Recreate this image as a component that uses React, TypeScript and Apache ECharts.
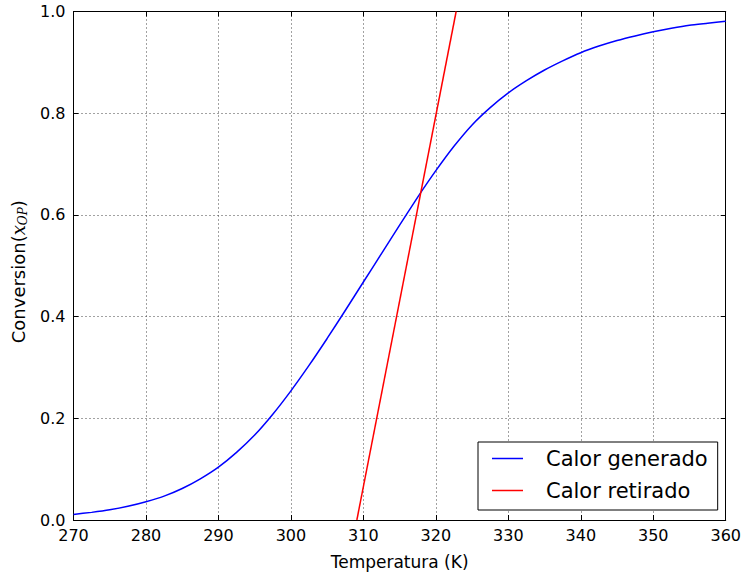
import React, { useEffect, useRef } from "react";
import * as echarts from "echarts";

const temperatures = [
  270, 272.5, 275, 277.5, 280, 282.5, 285, 287.5, 290, 292.5, 295, 297.5, 300, 302.5, 305, 307.5, 310, 312.5, 315,
  317.5, 320, 322.5, 325, 327.5, 330, 332.5, 335, 337.5, 340, 342.5, 345, 347.5, 350, 352.5, 355, 357.5, 360,
];
const calorGenerado = [
  0.011, 0.015, 0.02, 0.027, 0.036, 0.047, 0.062, 0.081, 0.104, 0.133, 0.167, 0.208, 0.254, 0.304, 0.357, 0.412,
  0.468, 0.524, 0.58, 0.635, 0.687, 0.735, 0.777, 0.811, 0.84, 0.864, 0.885, 0.903, 0.919, 0.932, 0.943, 0.952,
  0.96, 0.967, 0.973, 0.977, 0.981,
];
const retiradoT = [309.1, 322.8];
const calorRetirado = [0.0, 1.0];
const xTicks = { min: 270, max: 360, interval: 10 };
const yTicks = { min: 0, max: 1, interval: 0.2 };

const FONT = "DejaVu Sans";

export default function App() {
  const ref = useRef<HTMLDivElement>(null);
  useEffect(() => {
    if (!ref.current) return;
    const chart = echarts.init(ref.current, null, { renderer: "svg" });
    const axisLine = { show: true, onZero: false, lineStyle: { color: "#000", width: 1 } };
    const tick = { show: true, inside: true, length: 5, lineStyle: { color: "#000", width: 1 } };
    chart.setOption({
      animation: false,
      backgroundColor: "#fff",
      grid: { left: 73.5, right: 17, top: 11.5, bottom: 55, containLabel: false },
      legend: {
        orient: "vertical",
        left: 478,
        top: 442,
        padding: [6, 10, 9, 14],
        itemGap: 11,
        itemWidth: 31,
        itemHeight: 1.5,
        icon: "rect",
        borderColor: "#000",
        borderWidth: 1,
        borderRadius: 0,
        backgroundColor: "#fff",
        textStyle: { fontFamily: FONT, fontSize: 21, color: "#000", padding: [0, 0, 0, 18], lineHeight: 20 },
        data: ["Calor generado", "Calor retirado"],
      },
      xAxis: [
        {
          type: "value",
          min: xTicks.min,
          max: xTicks.max,
          interval: xTicks.interval,
          position: "bottom",
          axisLine,
          axisTick: tick,
          axisLabel: { fontFamily: FONT, fontSize: 16, color: "#000", margin: 7 },
          splitLine: { show: true, lineStyle: { color: "#444", type: [1, 3], width: 1 } },
          name: "Temperatura (K)",
          nameLocation: "middle",
          nameGap: 33,
          nameTextStyle: { fontFamily: FONT, fontSize: 17, color: "#000" },
        },
        {
          type: "value",
          min: xTicks.min,
          max: xTicks.max,
          interval: xTicks.interval,
          position: "top",
          axisLine,
          axisTick: tick,
          axisLabel: { show: false },
          splitLine: { show: false },
        },
      ],
      yAxis: [
        {
          type: "value",
          min: yTicks.min,
          max: yTicks.max,
          interval: yTicks.interval,
          position: "left",
          axisLine,
          axisTick: tick,
          axisLabel: {
            fontFamily: FONT,
            fontSize: 16,
            color: "#000",
            margin: 8,
            formatter: (v: number) => v.toFixed(1),
          },
          splitLine: { show: true, lineStyle: { color: "#444", type: [1, 3], width: 1 } },
          name: "{a|Conversion(}{x|x}{s|OP}{a|)}",
          nameLocation: "middle",
          nameGap: 44,
          nameTextStyle: {
            fontFamily: FONT,
            fontSize: 18,
            color: "#000",
            padding: [0, 12, 0, 0],
            rich: {
              a: { fontFamily: FONT, fontSize: 18, color: "#000", lineHeight: 22 },
              x: { fontFamily: "DejaVu Serif", fontStyle: "italic", fontSize: 18, color: "#000", lineHeight: 22 },
              s: {
                fontFamily: "DejaVu Serif",
                fontStyle: "italic",
                fontSize: 12,
                color: "#000",
                lineHeight: 22,
                verticalAlign: "bottom",
                padding: [7, 0, 0, 0],
              },
            },
          },
        },
        {
          type: "value",
          min: yTicks.min,
          max: yTicks.max,
          interval: yTicks.interval,
          position: "right",
          axisLine,
          axisTick: tick,
          axisLabel: { show: false },
          splitLine: { show: false },
        },
      ],
      series: [
        {
          name: "Calor generado",
          type: "line",
          xAxisIndex: 0,
          yAxisIndex: 0,
          data: temperatures.map((t, i) => [t, calorGenerado[i]]),
          smooth: 0.2,
          showSymbol: false,
          symbol: "none",
          lineStyle: { color: "#0000ff", width: 1.5 },
          itemStyle: { color: "#0000ff" },
          z: 3,
        },
        {
          name: "Calor retirado",
          type: "line",
          xAxisIndex: 0,
          yAxisIndex: 0,
          data: retiradoT.map((t, i) => [t, calorRetirado[i]]),
          showSymbol: false,
          symbol: "none",
          lineStyle: { color: "#ff0000", width: 1.5 },
          itemStyle: { color: "#ff0000" },
          z: 3,
        },
      ],
    });
    return () => chart.dispose();
  }, []);
  return (
    <div
      ref={ref}
      style={{ position: "fixed", left: 0, top: 0, width: 744, height: 575, background: "#fff" }}
    />
  );
}
